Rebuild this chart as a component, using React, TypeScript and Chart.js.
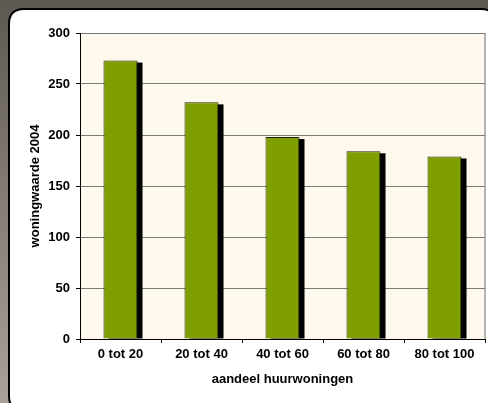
import React, { useEffect, useRef } from "react";
import { Chart, registerables } from "chart.js";

Chart.register(...registerables);

const categories = ["0 tot 20", "20 tot 40", "40 tot 60", "60 tot 80", "80 tot 100"];
const values = [273, 232, 198, 184, 179];
const yTitle = "woningwaarde 2004";
const xTitle = "aandeel huurwoningen";

const FONT = "'Liberation Sans', Arial, sans-serif";

const backgroundPlugin = {
  id: "bgCard",
  beforeDraw(chart: any) {
    const { ctx, width, height, chartArea } = chart;
    ctx.save();
    const g = ctx.createLinearGradient(0, 0, 0, height);
    g.addColorStop(0, "#5e5853");
    g.addColorStop(1, "#a9a19c");
    ctx.fillStyle = g;
    ctx.fillRect(0, 0, width, height);
    // card
    const x0 = 9, y0 = 9, x1 = 496, y1 = 411, r = 15;
    ctx.beginPath();
    ctx.moveTo(x0 + r, y0);
    ctx.lineTo(x1 - r, y0);
    ctx.quadraticCurveTo(x1, y0, x1, y0 + r);
    ctx.lineTo(x1, y1 - r);
    ctx.quadraticCurveTo(x1, y1, x1 - r, y1);
    ctx.lineTo(x0 + r, y1);
    ctx.quadraticCurveTo(x0, y1, x0, y1 - r);
    ctx.lineTo(x0, y0 + r);
    ctx.quadraticCurveTo(x0, y0, x0 + r, y0);
    ctx.closePath();
    ctx.fillStyle = "#ffffff";
    ctx.fill();
    ctx.lineWidth = 2;
    ctx.strokeStyle = "#000000";
    ctx.stroke();
    // plot area
    ctx.fillStyle = "#fff9ed";
    ctx.fillRect(chartArea.left, chartArea.top, chartArea.right - chartArea.left, chartArea.bottom - chartArea.top);
    ctx.strokeStyle = "#b4b4b4";
    ctx.lineWidth = 2;
    ctx.beginPath();
    ctx.moveTo(chartArea.right, chartArea.top);
    ctx.lineTo(chartArea.right, chartArea.bottom);
    ctx.stroke();
    ctx.restore();
  },
};

const shadowPlugin = {
  id: "barShadow",
  beforeDatasetsDraw(chart: any) {
    const { ctx, chartArea } = chart;
    const meta = chart.getDatasetMeta(0);
    ctx.save();
    ctx.beginPath();
    ctx.rect(chartArea.left, chartArea.top, chartArea.right - chartArea.left, chartArea.bottom - chartArea.top);
    ctx.clip();
    ctx.fillStyle = "#000000";
    meta.data.forEach((el: any) => {
      const w = el.width;
      ctx.fillRect(el.x - w / 2 + 5, el.y + 2, w, el.base - el.y - 2);
    });
    ctx.restore();
  },
};

export default function App() {
  const ref = useRef<HTMLCanvasElement | null>(null);
  useEffect(() => {
    if (!ref.current) return;
    const chart = new Chart(ref.current, {
      type: "bar",
      data: {
        labels: categories,
        datasets: [
          {
            data: values,
            backgroundColor: "#7f9f00",
            borderColor: "#1e2400",
            borderWidth: 1,
            categoryPercentage: 1,
            barPercentage: 0.42,
          },
        ],
      },
      options: {
        responsive: false,
        animation: false,
        events: [],
        layout: { padding: { left: 28, top: 33, right: 3, bottom: 0 } },
        plugins: { legend: { display: false }, tooltip: { enabled: false } },
        scales: {
          x: {
            grid: {
              display: true,
              drawOnChartArea: false,
              drawTicks: true,
              tickLength: 4,
              tickColor: "#000000",
              offset: true,
            },
            border: { display: true, color: "#000000", width: 1 },
            ticks: {
              color: "#000000",
              padding: 4,
              maxRotation: 0,
              font: { family: FONT, size: 13, weight: "bold" },
            },
            title: {
              display: true,
              text: xTitle,
              color: "#000000",
              padding: { top: 0, bottom: 16 },
              font: { family: FONT, size: 13, weight: "bold" },
            },
            afterFit: (s: any) => {
              s.height = 64;
            },
          },
          y: {
            min: 0,
            max: 300,
            grid: {
              color: (c: any) => (c.tick && c.tick.value === 0 ? "#000000" : "#7a7a7a"),
              lineWidth: 1,
              drawTicks: true,
              tickLength: 4,
              tickColor: "#000000",
            },
            border: { display: true, color: "#000000", width: 1 },
            ticks: {
              stepSize: 50,
              color: "#000000",
              padding: 6,
              font: { family: FONT, size: 13, weight: "bold" },
            },
            title: {
              display: true,
              text: yTitle,
              color: "#000000",
              padding: { top: 0, bottom: 0 },
              font: { family: FONT, size: 13, weight: "bold" },
            },
            afterFit: (s: any) => {
              s.width = 52;
            },
          },
        },
      },
      plugins: [backgroundPlugin, shadowPlugin],
    });
    return () => chart.destroy();
  }, []);
  return (
    <div style={{ position: "fixed", left: 0, top: 0, width: 488, height: 403 }}>
      <canvas ref={ref} width={488} height={403} style={{ display: "block", width: 488, height: 403 }} />
    </div>
  );
}
